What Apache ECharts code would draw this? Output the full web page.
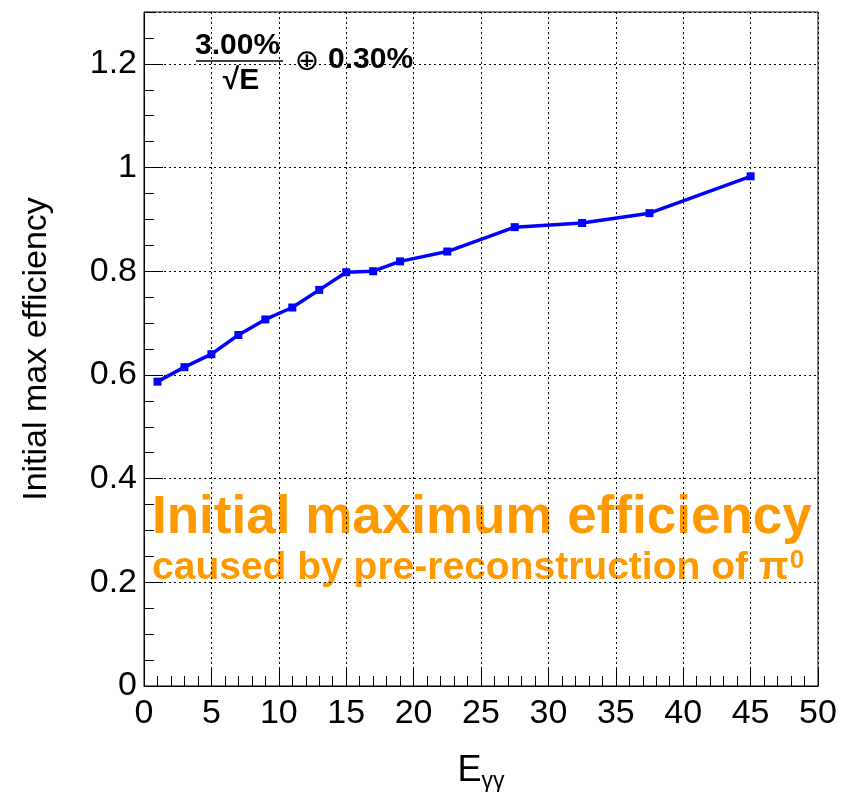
<!DOCTYPE html>
<html>
<head>
<meta charset="utf-8">
<script src="https://cdn.jsdelivr.net/npm/echarts@6/dist/echarts.min.js"></script>
<style>
html,body{margin:0;padding:0;background:#fff;}
#chart{width:845px;height:792px;}
</style>
</head>
<body>
<div id="chart"></div>
<script>
// Data
const energies = [1, 3, 5, 7, 9, 11, 13, 15, 17, 19, 22.5, 27.5, 32.5, 37.5, 45];
const efficiency = [0.587, 0.615, 0.640, 0.677, 0.707, 0.730, 0.764, 0.798, 0.800, 0.819, 0.838, 0.885, 0.893, 0.912, 0.983];
const xTitle = 'E';
const xTitleSub = 'γγ';
const yTitle = 'Initial max efficiency';
const noteLine1 = 'Initial maximum efficiency';
const noteLine2 = 'caused by pre-reconstruction of π';
const noteLine2Sup = '0';
const resNum = '3.00%';
const resDen = '√E';
const resConst = '0.30%';

const FONT = '"Liberation Sans", Arial, Helvetica, sans-serif';
const chart = echarts.init(document.getElementById('chart'), null, {renderer: 'canvas'});

const G = {left: 144, right: 27, top: 12, bottom: 106};

const option = {
  animation: false,
  backgroundColor: '#fff',
  grid: {left: G.left, right: G.right, top: G.top, bottom: G.bottom, show: true,
         containLabel: false, outerBoundsMode: 'none',
         borderColor: '#000', borderWidth: 1, backgroundColor: 'transparent'},
  xAxis: {
    type: 'value', min: 0, max: 50, interval: 5,
    name: xTitle + '{s|' + xTitleSub + '}',
    nameLocation: 'middle', nameGap: 64,
    nameTextStyle: {fontFamily: FONT, fontSize: 36, color: '#000',
      rich: {s: {fontFamily: FONT, fontSize: 23, verticalAlign: 'bottom', padding: [20, 0, 0, 0], color: '#000'}}},
    axisLine: {show: true, lineStyle: {color: '#000', width: 1}},
    axisTick: {show: true, inside: true, length: 19, lineStyle: {color: '#000', width: 1}},
    minorTick: {show: true, splitNumber: 5, length: 10, lineStyle: {color: '#000', width: 1}},
    axisLabel: {fontFamily: FONT, fontSize: 34, color: '#000', margin: 11},
    splitLine: {show: true, lineStyle: {color: '#000', width: 1, type: [2, 3]}}
  },
  yAxis: [{
    type: 'value', min: 0, max: 1.3, interval: 0.2, position: 'left',
    name: yTitle, nameLocation: 'middle', nameGap: 90,
    nameTextStyle: {fontFamily: FONT, fontSize: 34, color: '#000'},
    axisLine: {show: true, lineStyle: {color: '#000', width: 1}},
    axisTick: {show: true, inside: true, length: 19, lineStyle: {color: '#000', width: 1}},
    axisLabel: {fontFamily: FONT, fontSize: 34, color: '#000', margin: 7, showMaxLabel: false,
      formatter: v => (Math.abs(v - 1.3) < 1e-6 ? '' : String(+v.toFixed(2)))},
    splitLine: {show: true, lineStyle: {color: '#000', width: 1, type: [2, 3]}}
  }, {
    type: 'value', min: 0, max: 1.3, interval: 0.05, position: 'left', offset: 0,
    axisLine: {show: false},
    axisTick: {show: true, inside: true, length: 10, lineStyle: {color: '#000', width: 1}},
    axisLabel: {show: false},
    splitLine: {show: false}
  }],
  series: [{
    type: 'line',
    data: energies.map((e, i) => [e, efficiency[i]]),
    yAxisIndex: 0,
    lineStyle: {color: '#0000ff', width: 3.5},
    itemStyle: {color: '#0000ff'},
    symbol: 'rect', symbolSize: 8, showSymbol: true,
    z: 5
  }],
  graphic: [
    {type: 'text', style: {x: 195, y: 46, text: resNum, font: 'bold 30px ' + FONT, fill: '#000', textAlign: 'left', textVerticalAlign: 'middle'}},
    {type: 'line', shape: {x1: 196, y1: 61, x2: 283, y2: 61}, style: {stroke: '#000', lineWidth: 1.5}},
    {type: 'text', style: {x: 241, y: 81, text: resDen, font: 'bold 30px ' + FONT, fill: '#000', textAlign: 'center', textVerticalAlign: 'middle'}},
    {type: 'text', style: {x: 307, y: 62, text: '⊕', font: '29px "DejaVu Sans", ' + FONT, fill: '#000', textAlign: 'center', textVerticalAlign: 'middle'}},
    {type: 'text', style: {x: 328, y: 60, text: resConst, font: 'bold 30px ' + FONT, fill: '#000', textAlign: 'left', textVerticalAlign: 'middle'}},
    {type: 'text', style: {x: 152, y: 518, text: noteLine1, font: 'bold 53px ' + FONT, fill: '#ff9900', textAlign: 'left', textVerticalAlign: 'middle'}},
    {type: 'text', style: {x: 152, y: 568, text: noteLine2 + '{sup|' + noteLine2Sup + '}', font: 'bold 39px ' + FONT, fill: '#ff9900', textAlign: 'left', textVerticalAlign: 'middle',
      rich: {sup: {font: 'bold 26px ' + FONT, fill: '#ff9900', verticalAlign: 'top', padding: [0, 0, 14, 1]}}}}
  ]
};
chart.setOption(option);
</script>
</body>
</html>
